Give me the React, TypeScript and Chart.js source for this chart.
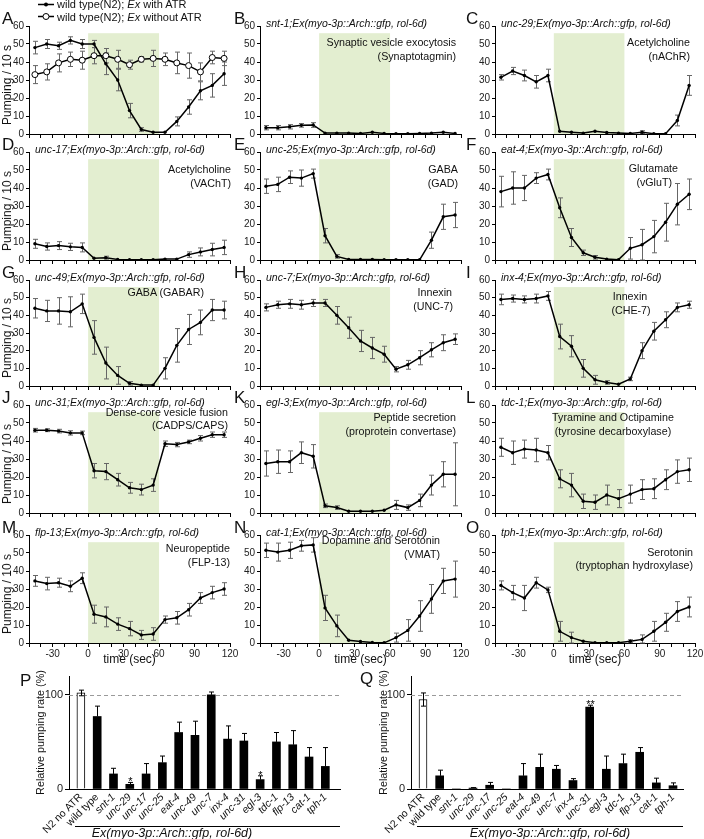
import React, { useEffect, useRef } from "react";
import { Chart, registerables } from "chart.js";
Chart.register(...registerables);

const FONT = "'Liberation Sans', Arial, sans-serif";
const SHADE = "#e3eed0";

// ---------- data ----------
const timeSec = [-45, -35, -25, -15, -5, 5, 15, 25, 35, 45, 55, 65, 75, 85, 95, 105, 115];

const wtAtr = [48, 50, 49, 52, 50, 50, 39, 30, 13, 2.5, 1, 1, 7, 15, 24, 27, 33.5];
const wtAtrErr = [3.5, 2.5, 2, 2, 2.5, 2, 6, 6, 4, 1, 0.5, 0.5, 2.5, 4, 5, 6.5, 6.5];
const wtNoAtr = [33, 34.5, 39.5, 41.5, 41, 43.5, 43.5, 41.5, 38.5, 41.5, 42, 41.5, 39.5, 38, 34.5, 42.5, 42];
const wtNoAtrErr = [5, 4.5, 5, 4, 5, 4.5, 4, 5, 2.5, 1.5, 4.5, 3.5, 6, 7, 5, 3.5, 4];

const snt1 = [3.5, 3.5, 4, 4.8, 5, 0.5, 0.5, 0.5, 0.3, 1, 0.3, 0.2, 0.2, 0.3, 0.5, 1, 0.3];
const snt1Err = [1.2, 1.2, 1.2, 1, 1.3, 0.3, 0.3, 0.3, 0.3, 0.4, 0.2, 0.2, 0.2, 0.2, 0.3, 0.5, 0.3];
const unc29 = [31.5, 35, 32.5, 29, 32.5, 1.5, 1, 0.5, 1.5, 0.8, 0.5, 0.3, 1, 0.2, 0.2, 7.5, 27];
const unc29Err = [1.5, 2, 3, 3.5, 3.5, 0.5, 0.5, 0.3, 0.5, 0.4, 0.3, 0.3, 0.8, 0.2, 0.2, 3, 5.5];
const unc17 = [9, 7.5, 8, 7.3, 7, 1, 1.3, 0.3, 0.2, 0.1, 0.1, 0.5, 0.5, 3, 4.5, 5.8, 7];
const unc17Err = [2.5, 2, 2.2, 2, 2.5, 0.5, 0.8, 0.3, 0.2, 0.1, 0.1, 0.4, 0.4, 1.5, 2.2, 3.5, 4];
const unc25 = [41, 42, 46, 45.5, 48, 13.5, 2, 0.3, 0.3, 0.3, 0.1, 0.1, 0.1, 0.1, 11, 24, 25];
const unc25Err = [4, 4, 3.5, 4.5, 2.5, 4, 1, 0.3, 0.3, 0.3, 0.1, 0.1, 0.1, 0.1, 4.5, 7, 7];
const eat4 = [38, 40, 40, 45.5, 47.5, 29, 12.5, 4, 1.5, 0.5, 0.2, 6.5, 8.5, 13, 21, 31, 36.5];
const eat4Err = [8.5, 9, 7, 3, 3, 5.5, 5, 1.5, 1, 0.4, 0.2, 6, 8.5, 9, 10.5, 11.5, 8.5];
const unc49 = [44, 42.5, 42.5, 42, 46.5, 27.5, 13, 6, 1.5, 0.5, 0.5, 10, 23, 32, 36, 43, 43];
const unc49Err = [5.5, 6, 7.5, 8.5, 5.5, 9.5, 9, 5, 1, 0.4, 0.4, 6, 9.5, 8.5, 7, 6, 5];
const unc7 = [44.5, 46, 46.5, 46, 47, 47, 40, 33, 25.5, 21.5, 18, 9.5, 12, 16, 20.5, 24.5, 26.5];
const unc7Err = [2, 2, 2.5, 2.5, 2, 2, 5, 6, 6, 6, 4.5, 1.5, 2.5, 4, 4, 4.5, 3];
const inx4 = [49, 49.5, 49, 49.5, 51, 28, 22.5, 10, 3.5, 2, 1, 4, 20, 31, 37.5, 44.5, 46];
const inx4Err = [3, 2, 2, 2.5, 2.5, 7, 6, 5, 2.5, 1, 0.5, 1, 4.5, 5, 4.5, 2.5, 2];
const unc31 = [46, 46, 45.5, 44.5, 44.5, 23.5, 23, 18.5, 14, 13, 15.5, 38.5, 38, 39.5, 41.5, 43.5, 43.5];
const unc31Err = [1, 0.8, 1, 1.2, 1, 4, 4.5, 3.5, 3, 3, 3.5, 1.5, 1.2, 1, 1.5, 1.5, 1.5];
const egl3 = [27.5, 28.5, 28.5, 33.5, 31.5, 4, 3, 1, 1, 1, 1.5, 4.5, 3, 7, 15.5, 21.5, 21.5];
const egl3Err = [7, 6.5, 6, 6, 6.5, 1, 1, 0.5, 0.5, 0.3, 0.5, 2.5, 1.5, 3.5, 5.5, 7, 17.5];
const tdc1 = [36.5, 33.5, 35.5, 35, 33.5, 19, 15.5, 6.5, 6, 10, 8, 10.5, 13, 13.5, 18.5, 23, 24];
const tdc1Err = [5, 6.5, 5, 6.5, 4, 5, 6.5, 4, 4, 5.5, 5, 5, 5.5, 5.5, 5.5, 6.5, 6.5];
const flp13 = [34.5, 33, 33.5, 31.5, 36, 16, 14.5, 10.5, 8, 4.5, 5, 13, 14, 18.5, 25, 28, 30];
const flp13Err = [3, 3.5, 2.5, 3, 3, 5, 5.5, 3.5, 4, 2.5, 3.5, 2, 3.5, 3.5, 3, 3.5, 3.5];
const cat1 = [51.5, 50.5, 51.5, 54, 54.5, 19.5, 9.5, 1.5, 0.8, 0.3, 0.1, 3, 7, 15, 24.5, 34.5, 35.5];
const cat1Err = [4, 5, 4.5, 3, 4, 7, 6, 0.5, 0.3, 0.2, 0.1, 2.5, 6, 8.5, 8, 7, 10];
const tph1 = [32, 28, 25, 33.5, 29.5, 6.5, 3, 1, 0.2, 0.2, 0.2, 1, 2, 6.5, 11.5, 17.5, 20];
const tph1Err = [2.5, 4, 7, 3, 1.5, 5.5, 3, 0.5, 0.2, 0.2, 0.2, 0.8, 2.5, 5.5, 5, 5.5, 5.5];

const xTickLabels = [-30, 0, 30, 60, 90, 120];
const yTicks = [0, 10, 20, 30, 40, 50, 60];

const barLabels = ["N2 no ATR", "wild type", "snt-1", "unc-29", "unc-17", "unc-25", "eat-4", "unc-49", "unc-7", "inx-4", "unc-31", "egl-3", "tdc-1", "flp-13", "cat-1", "tph-1"];
const pRel = [102, 77, 16, 5, 16, 28, 60, 57, 100, 53, 51, 10, 50, 47, 34, 24];
const pErr = [3, 11, 6, 2, 11, 7, 11, 15, 3, 14, 8, 4, 10, 15, 10, 20];
const pStars = ["", "", "", "*", "", "", "", "", "", "", "", "*", "", "", "", ""];
const qRel = [95, 14, 0, 1, 4, 0, 14, 23, 21, 9, 87, 21, 27, 39, 6.5, 3.5];
const qErr = [7, 6, 0, 0.5, 3, 0, 13, 14, 4, 2, 2, 14, 10, 5, 5, 3];
const qStars = ["", "", "", "", "", "", "", "", "", "", "**", "", "", "", "", ""];

// ---------- layout ----------
const COLS = [{ l: 29, r: 230 }, { l: 260, r: 461 }, { l: 495, r: 695 }];
const ROWS = [{ t: 26, b: 134 }, { t: 152, b: 260 }, { t: 280, b: 386 }, { t: 405, b: 513 }, { t: 535, b: 643 }];
const LETTER_X = [2, 234, 466];

const panels = [
  { letter: "A", c: 0, r: 0, series: [{ v: wtAtr, e: wtAtrErr, open: false }, { v: wtNoAtr, e: wtNoAtrErr, open: true }], title: "", notes: [] },
  { letter: "B", c: 1, r: 0, series: [{ v: snt1, e: snt1Err }], title: "snt-1;Ex(myo-3p::Arch::gfp, rol-6d)", notes: [{ t: "Synaptic vesicle exocytosis", x: 456, y: 42, a: "r" }, { t: "(Synaptotagmin)", x: 456, y: 56, a: "r" }] },
  { letter: "C", c: 2, r: 0, series: [{ v: unc29, e: unc29Err }], title: "unc-29;Ex(myo-3p::Arch::gfp, rol-6d)", notes: [{ t: "Acetylcholine", x: 690, y: 42, a: "r" }, { t: "(nAChR)", x: 690, y: 56, a: "r" }] },
  { letter: "D", c: 0, r: 1, series: [{ v: unc17, e: unc17Err }], title: "unc-17;Ex(myo-3p::Arch::gfp, rol-6d)", notes: [{ t: "Acetylcholine", x: 231, y: 169, a: "r" }, { t: "(VAChT)", x: 231, y: 183, a: "r" }] },
  { letter: "E", c: 1, r: 1, series: [{ v: unc25, e: unc25Err }], title: "unc-25;Ex(myo-3p::Arch::gfp, rol-6d)", notes: [{ t: "GABA", x: 458, y: 169, a: "r" }, { t: "(GAD)", x: 458, y: 183, a: "r" }] },
  { letter: "F", c: 2, r: 1, series: [{ v: eat4, e: eat4Err }], title: "eat-4;Ex(myo-3p::Arch::gfp, rol-6d)", notes: [{ t: "Glutamate", x: 678, y: 168, a: "r" }, { t: "(vGluT)", x: 672, y: 182, a: "r" }] },
  { letter: "G", c: 0, r: 2, series: [{ v: unc49, e: unc49Err }], title: "unc-49;Ex(myo-3p::Arch::gfp, rol-6d)", notes: [{ t: "GABA (GABAR)", x: 204, y: 292, a: "r" }] },
  { letter: "H", c: 1, r: 2, series: [{ v: unc7, e: unc7Err }], title: "unc-7;Ex(myo-3p::Arch::gfp, rol-6d)", notes: [{ t: "Innexin", x: 452, y: 292, a: "r" }, { t: "(UNC-7)", x: 453, y: 306, a: "r" }] },
  { letter: "I", c: 2, r: 2, series: [{ v: inx4, e: inx4Err }], title: "inx-4;Ex(myo-3p::Arch::gfp, rol-6d)", notes: [{ t: "Innexin", x: 630, y: 296, a: "c" }, { t: "(CHE-7)", x: 631, y: 310, a: "c" }] },
  { letter: "J", c: 0, r: 3, series: [{ v: unc31, e: unc31Err }], title: "unc-31;Ex(myo-3p::Arch::gfp, rol-6d)", notes: [{ t: "Dense-core vesicle fusion", x: 228, y: 412, a: "r" }, { t: "(CADPS/CAPS)", x: 228, y: 425, a: "r" }] },
  { letter: "K", c: 1, r: 3, series: [{ v: egl3, e: egl3Err }], title: "egl-3;Ex(myo-3p::Arch::gfp, rol-6d)", notes: [{ t: "Peptide secretion", x: 456, y: 417, a: "r" }, { t: "(proprotein convertase)", x: 456, y: 431, a: "r" }] },
  { letter: "L", c: 2, r: 3, series: [{ v: tdc1, e: tdc1Err }], title: "tdc-1;Ex(myo-3p::Arch::gfp, rol-6d)", notes: [{ t: "Tyramine and Octipamine", x: 613, y: 417, a: "c" }, { t: "(tyrosine decarboxylase)", x: 613, y: 431, a: "c" }] },
  { letter: "M", c: 0, r: 4, series: [{ v: flp13, e: flp13Err }], title: "flp-13;Ex(myo-3p::Arch::gfp, rol-6d)", notes: [{ t: "Neuropeptide", x: 230, y: 548, a: "r" }, { t: "(FLP-13)", x: 230, y: 562, a: "r" }] },
  { letter: "N", c: 1, r: 4, series: [{ v: cat1, e: cat1Err }], title: "cat-1;Ex(myo-3p::Arch::gfp, rol-6d)", notes: [{ t: "Dopamine and Serotonin", x: 440, y: 540, a: "r" }, { t: "(VMAT)", x: 440, y: 554, a: "r" }] },
  { letter: "O", c: 2, r: 4, series: [{ v: tph1, e: tph1Err }], title: "tph-1;Ex(myo-3p::Arch::gfp, rol-6d)", notes: [{ t: "Serotonin", x: 693, y: 552, a: "r" }, { t: "(tryptophan hydroxylase)", x: 693, y: 565, a: "r" }] },
];

// ---------- helpers ----------
function Txt({ x, y, a = "l", size = 11, italic = false, children, rot = 0, color = "#111" }: any) {
  const tx = a === "r" ? "-100%" : a === "c" ? "-50%" : "0";
  return (
    <div
      style={{
        position: "absolute", left: x, top: y, whiteSpace: "nowrap", fontFamily: FONT, fontSize: size,
        fontStyle: italic ? "italic" : "normal", lineHeight: 1, color,
        transform: rot ? `translate(-50%,-50%) rotate(${rot}deg)` : `translate(${tx},-50%)`,
      }}
    >
      {children}
    </div>
  );
}

const axisGrid = (len: number) => ({ drawOnChartArea: false, drawTicks: true, tickLength: len, color: "#000", lineWidth: 1 });

function LinePanel({ p }: any) {
  const ref = useRef<HTMLCanvasElement>(null);
  const col = COLS[p.c], row = ROWS[p.r];
  const bottom = p.r === 4;
  const yW = 30, padT = 8, padR = 10, xH = bottom ? 20 : 6;
  const plotW = col.r - col.l, plotH = row.b - row.t;
  const W = yW + plotW + padR, H = padT + plotH + xH;

  useEffect(() => {
    const shade = {
      id: "shade",
      beforeDraw(chart: any) {
        const { ctx } = chart; const xs = chart.scales.x, ys = chart.scales.y;
        const x0 = xs.getPixelForValue(0), x1 = xs.getPixelForValue(60);
        const y0 = ys.getPixelForValue(0), y1 = ys.getPixelForValue(56);
        ctx.save(); ctx.fillStyle = SHADE; ctx.fillRect(x0, y1, x1 - x0, y0 - y1); ctx.restore();
      },
    };
    const errs = {
      id: "errs",
      beforeDatasetsDraw(chart: any) {
        const { ctx } = chart; const xs = chart.scales.x, ys = chart.scales.y;
        ctx.save(); ctx.strokeStyle = "#666"; ctx.lineWidth = 1;
        p.series.forEach((s: any) => {
          s.v.forEach((v: number, i: number) => {
            const e = s.e[i]; if (!e || e < 0.6) return;
            const px = Math.round(xs.getPixelForValue(timeSec[i])) + 0.5;
            const yt = ys.getPixelForValue(v + e), yb = ys.getPixelForValue(Math.max(0, v - e));
            ctx.beginPath();
            ctx.moveTo(px, yt); ctx.lineTo(px, yb);
            ctx.moveTo(px - 2.5, yt); ctx.lineTo(px + 2.5, yt);
            ctx.moveTo(px - 2.5, yb); ctx.lineTo(px + 2.5, yb);
            ctx.stroke();
          });
        });
        ctx.restore();
      },
    };
    const datasets = p.series.map((s: any) => ({
      data: s.v.map((v: number, i: number) => ({ x: timeSec[i], y: v })),
      borderColor: "#000", borderWidth: 1.5, tension: 0,
      pointRadius: s.open ? 3 : 1.7, pointBackgroundColor: s.open ? "#fff" : "#000",
      pointBorderColor: "#000", pointBorderWidth: s.open ? 1 : 0, pointStyle: "circle",
    }));
    const chart = new Chart(ref.current as HTMLCanvasElement, {
      type: "line",
      data: { datasets },
      plugins: [shade, errs],
      options: {
        animation: false, responsive: false, devicePixelRatio: 1,
        layout: { padding: { top: padT, right: padR, left: 0, bottom: 0 } },
        plugins: { legend: { display: false }, tooltip: { enabled: false } },
        scales: {
          x: {
            type: "linear", min: -50, max: 120,
            ticks: {
              stepSize: 10, autoSkip: false, maxRotation: 0, padding: 1, color: "#222",
              font: { family: FONT, size: 10 },
              callback: (v: any) => (bottom && xTickLabels.includes(v) ? String(v) : ""),
            },
            grid: axisGrid(4), border: { color: "#000", width: 1 },
            afterFit: (s: any) => { s.height = xH; s.paddingLeft = 0; s.paddingRight = 0; },
          },
          y: {
            min: 0, max: 60,
            afterBuildTicks: (s: any) => { s.ticks = yTicks.map((v) => ({ value: v })); },
            ticks: { padding: 2, color: "#222", font: { family: FONT, size: 10 } },
            grid: axisGrid(3), border: { color: "#000", width: 1 },
            afterFit: (s: any) => { s.width = yW; s.paddingTop = 0; s.paddingBottom = 0; },
          },
        },
      } as any,
    });
    return () => chart.destroy();
  }, []);

  return (
    <>
      <canvas ref={ref} width={W} height={H} style={{ position: "absolute", left: col.l - yW, top: row.t - padT, width: W, height: H }} />
      <Txt x={LETTER_X[p.c]} y={row.t - 8} size={17}>{p.letter}</Txt>
      {p.title ? <Txt x={col.l + 6} y={row.t - 3} size={10.5} italic>{p.title}</Txt> : null}
      {p.notes.map((n: any, i: number) => (
        <Txt key={i} x={n.x} y={n.y} a={n.a} size={10.7}>{n.t}</Txt>
      ))}
      {p.c === 0 ? <Txt x={7} y={(row.t + row.b) / 2 + 5} size={12} rot={-90}>Pumping / 10 s</Txt> : null}
      {bottom ? <Txt x={(col.l + col.r) / 2} y={659} a="c" size={12}>time (sec)</Txt> : null}
    </>
  );
}

function BarPanel({ vals, errs, stars, left, right, top, bottom, xMin, xMax, titleX }: any) {
  const ref = useRef<HTMLCanvasElement>(null);
  const yW = 46, padT = 20, padR = 8, xH = 50;
  const W = yW + (right - left) + padR, H = padT + (bottom - top) + xH;
  const canvasLeft = left - yW;
  useEffect(() => {
    const deco = {
      id: "deco",
      beforeDatasetsDraw(chart: any) {
        const { ctx, chartArea } = chart; const ys = chart.scales.y;
        const y100 = Math.round(ys.getPixelForValue(100)) + 0.5;
        ctx.save(); ctx.strokeStyle = "#9a9a9a"; ctx.lineWidth = 1; ctx.setLineDash([4, 3]);
        ctx.beginPath(); ctx.moveTo(chartArea.left, y100); ctx.lineTo(chartArea.right, y100); ctx.stroke();
        ctx.restore();
      },
      afterDatasetsDraw(chart: any) {
        const { ctx } = chart; const xs = chart.scales.x, ys = chart.scales.y;
        ctx.save(); ctx.strokeStyle = "#000"; ctx.lineWidth = 1; ctx.fillStyle = "#000";
        vals.forEach((v: number, i: number) => {
          const e = errs[i];
          const px = Math.round(xs.getPixelForValue(i)) + 0.5;
          const yt = ys.getPixelForValue(v + e);
          if (e > 0) {
            const yb = ys.getPixelForValue(i === 0 ? v - e : v);
            ctx.beginPath();
            ctx.moveTo(px, yt); ctx.lineTo(px, yb);
            ctx.moveTo(px - 2.5, yt); ctx.lineTo(px + 2.5, yt);
            if (i === 0) { ctx.moveTo(px - 2.5, yb); ctx.lineTo(px + 2.5, yb); }
            ctx.stroke();
          }
          if (stars[i]) {
            ctx.font = `11px ${FONT}`; ctx.textAlign = "center"; ctx.textBaseline = "alphabetic";
            ctx.fillText(stars[i], px, yt + 3);
          }
        });
        ctx.restore();
      },
    };
    const chart = new Chart(ref.current as HTMLCanvasElement, {
      type: "bar",
      data: {
        datasets: [{
          data: vals.map((v: number, i: number) => ({ x: i, y: v })),
          backgroundColor: vals.map((_: number, i: number) => (i === 0 ? "#fff" : "#000")),
          borderColor: "#000", borderWidth: vals.map((_: number, i: number) => (i === 0 ? 1 : 0)),
          barThickness: 8,
        }],
      },
      plugins: [deco],
      options: {
        animation: false, responsive: false, devicePixelRatio: 1,
        layout: { padding: { top: padT, right: padR, left: 0, bottom: 0 } },
        plugins: { legend: { display: false }, tooltip: { enabled: false } },
        scales: {
          x: {
            type: "linear", min: xMin, max: xMax,
            offset: false,
            afterBuildTicks: (s: any) => { s.ticks = barLabels.map((_, i) => ({ value: i })); },
            ticks: {
              autoSkip: false, minRotation: 45, maxRotation: 45, padding: 2, color: "#111",
              font: (c: any) => ({ family: FONT, size: 10.5, style: c.index < 2 ? "normal" : "italic" }),
              callback: (v: any) => barLabels[v] ?? "",
            },
            grid: { drawOnChartArea: false, drawTicks: false, color: "#000" },
            border: { color: "#000", width: 1 },
            afterFit: (s: any) => { s.height = xH; s.paddingLeft = 0; s.paddingRight = 0; },
          },
          y: {
            min: 0, max: 120,
            afterBuildTicks: (s: any) => { s.ticks = [{ value: 0 }, { value: 100 }]; },
            ticks: { padding: 2, color: "#222", font: { family: FONT, size: 11 } },
            title: {
              display: true, text: "Relative pumping rate (%)", color: "#111",
              font: { family: FONT, size: 10.8 }, padding: { top: titleX - canvasLeft - 7, bottom: 0 },
            },
            grid: axisGrid(4), border: { color: "#000", width: 1 },
            afterFit: (s: any) => { s.width = yW; s.paddingTop = 0; s.paddingBottom = 0; },
          },
        },
      } as any,
    });
    return () => chart.destroy();
  }, []);
  return <canvas ref={ref} width={W} height={H} style={{ position: "absolute", left: canvasLeft, top: top - padT, width: W, height: H }} />;
}

function Legend() {
  return (
    <>
      <svg width={60} height={30} style={{ position: "absolute", left: 30, top: 0 }}>
        <line x1={8} y1={4.5} x2={24} y2={4.5} stroke="#000" strokeWidth={1.5} />
        <circle cx={16} cy={4.5} r={2} fill="#000" />
        <line x1={8} y1={16.5} x2={24} y2={16.5} stroke="#000" strokeWidth={1.5} />
        <circle cx={16} cy={16.5} r={3} fill="#fff" stroke="#000" strokeWidth={1} />
      </svg>
      <Txt x={57} y={4} size={11}>wild type(N2); <i>Ex</i> with ATR</Txt>
      <Txt x={57} y={16.5} size={11}>wild type(N2); <i>Ex</i> without ATR</Txt>
    </>
  );
}

export default function App() {
  return (
    <div style={{ position: "absolute", left: 0, top: 0, width: 704, height: 839, background: "#fff", overflow: "hidden", fontFamily: FONT }}>
      {panels.map((p) => <LinePanel key={p.letter} p={p} />)}
      <Legend />
      <BarPanel vals={pRel} errs={pErr} stars={pStars} left={69} right={340} top={676} bottom={789} xMin={-0.73} xMax={15.9} titleX={42} />
      <BarPanel vals={qRel} errs={qErr} stars={qStars} left={411} right={683} top={676} bottom={789} xMin={-0.72} xMax={15.6} titleX={385} />
      <Txt x={20} y={680} size={17}>P</Txt>
      <Txt x={360} y={678} size={17}>Q</Txt>
      <div style={{ position: "absolute", left: 75, top: 826, width: 265, height: 1, background: "#000" }} />
      <div style={{ position: "absolute", left: 417, top: 826, width: 266, height: 1, background: "#000" }} />
      <Txt x={172} y={833} a="c" size={12.5} italic>Ex(myo-3p::Arch::gfp, rol-6d)</Txt>
      <Txt x={550} y={833} a="c" size={12.5} italic>Ex(myo-3p::Arch::gfp, rol-6d)</Txt>
    </div>
  );
}
